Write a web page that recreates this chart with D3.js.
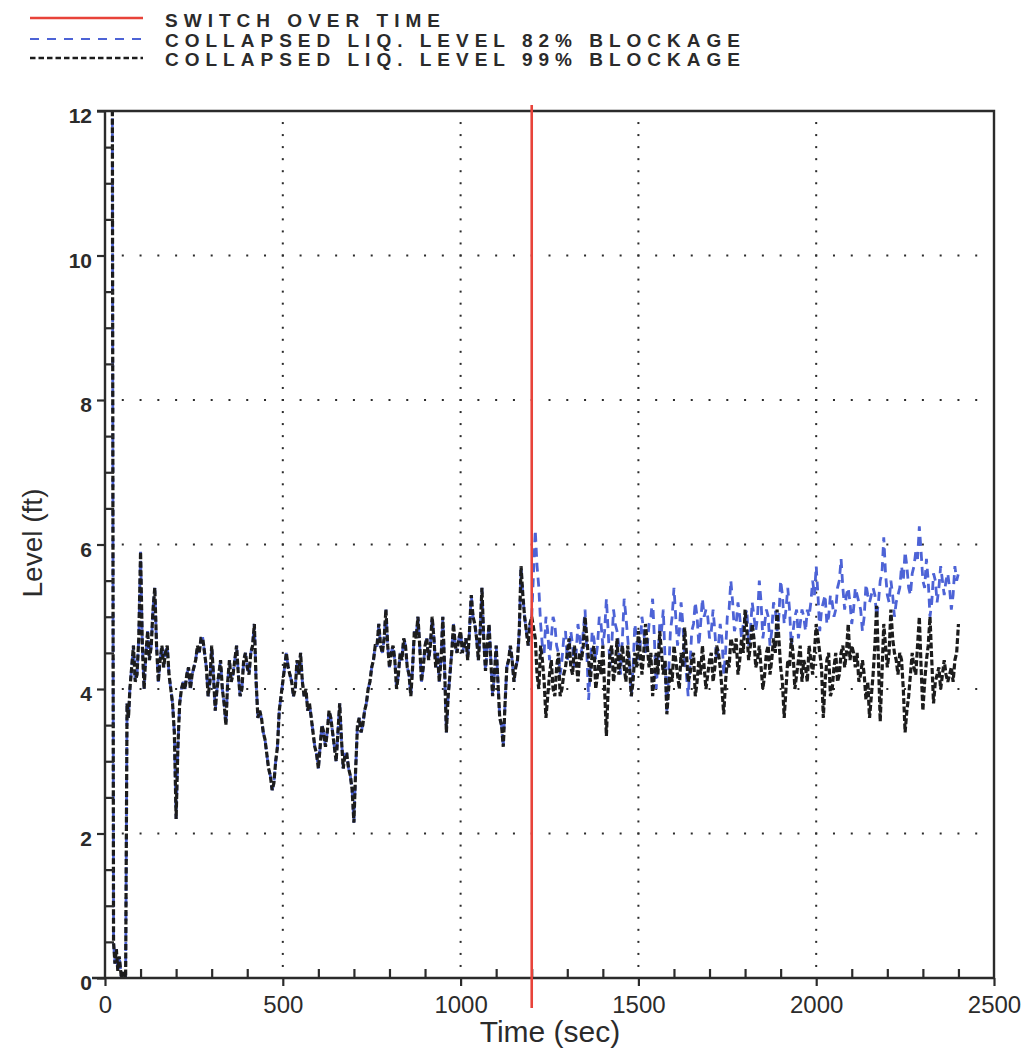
<!DOCTYPE html>
<html>
<head>
<meta charset="utf-8">
<script src="https://cdn.jsdelivr.net/npm/d3@7"></script>
<style>
  body { margin: 0; background: #fff; }
  svg { display: block; }
</style>
</head>
<body>
<svg id="chart" width="1023" height="1052"></svg>
<script>
// ---- Data -------------------------------------------------------------
// Collapsed liquid level (ft) versus time (sec).
// Start-up transient, shared by both cases.
const earlyTime  = [0, 10, 20, 24, 28, 32, 36, 40, 46, 52, 58, 62, 66];
const earlyLevel = [14.5, 14.5, 14.5, 0.5, 0.2, 0.4, 0.1, 0.3, 0.0, 0.1, 0.0, 3.8, 3.6];

// Samples on the 10 s marks from 70 s to 1200 s, plus the 5 s marks in
// between (75..1195 s); both blockage cases coincide here.
const sharedStart = 70;
const sampleStep = 10;
const sharedLevel = [
  4.0, 4.6, 4.2, 5.9, 4.0, 4.8, 4.6, 5.4, 4.1, 4.6,
  4.5, 4.2, 3.8, 2.2, 3.8, 4.1, 4.2, 4.0, 4.3, 4.6,
  4.7, 4.5, 3.9, 4.6, 3.7, 4.2, 4.0, 3.5, 4.4, 4.2,
  4.6, 3.9, 4.4, 4.3, 4.5, 4.9, 3.6, 3.6, 3.3, 2.9,
  2.6, 3.0, 3.7, 4.1, 4.5, 4.2, 3.9, 4.4, 4.5, 3.9,
  3.7, 3.6, 3.2, 2.9, 3.5, 3.2, 3.7, 3.4, 3.0, 3.8,
  2.9, 3.1, 2.8, 2.15, 3.5, 3.4, 3.7, 4.0, 4.3, 4.6,
  4.9, 4.5, 5.1, 4.3, 4.6, 4.0, 4.5, 4.7, 4.3, 3.9,
  4.8, 5.0, 4.1, 4.6, 4.4, 5.0, 4.3, 4.1, 5.0, 3.4,
  4.2, 4.9, 4.5, 4.8, 4.6, 4.4, 5.3, 4.9, 4.4, 5.4,
  4.25, 4.9, 3.9, 4.6, 3.6, 3.2, 4.3, 4.6, 4.1, 4.4,
  5.7, 5.0, 4.6, 5.0
];
const sharedLevelMid = [
  4.3, 4.1, 4.7, 4.6, 4.5, 4.4, 5.1, 4.6, 4.4, 4.3,
  4.6, 4.0, 3.4, 3.2, 4.0, 4.0, 4.3, 4.2, 4.4, 4.5,
  4.7, 4.3, 4.1, 4.2, 4.0, 4.4, 3.8, 4.1, 4.1, 4.4,
  4.2, 4.0, 4.5, 4.2, 4.6, 4.1, 3.7, 3.4, 3.1, 2.8,
  2.7, 3.2, 3.9, 4.3, 4.3, 4.1, 4.0, 4.2, 4.1, 4.0,
  3.8, 3.4, 3.1, 3.2, 3.4, 3.4, 3.6, 3.2, 3.4, 3.3,
  3.1, 2.9, 2.6, 2.9, 3.6, 3.5, 3.8, 4.1, 4.4, 4.6,
  4.6, 4.7, 4.6, 4.5, 4.4, 4.2, 4.4, 4.6, 4.2, 4.3,
  4.7, 4.6, 4.3, 4.7, 4.6, 4.7, 4.5, 4.4, 4.3, 3.9,
  4.5, 4.6, 4.7, 4.5, 4.7, 4.8, 5.0, 4.7, 4.8, 4.7,
  4.6, 4.4, 4.2, 4.1, 3.5, 3.8, 4.4, 4.4, 4.3, 4.8,
  5.3, 4.8, 4.9
];

// After switch over: samples on the 10 s marks (1210..2400 s)
// and on the 5 s marks in between (1215..2395 s).
const afterStart = 1210;
const level99After = [
  4.7, 4.0, 4.4, 3.6, 4.2, 4.0, 4.3, 3.9, 4.2, 4.5,
  4.3, 4.6, 4.1, 4.4, 5.0, 4.4, 4.5, 4.0, 4.4, 4.6,
  3.35, 4.5, 4.1, 4.7, 4.4, 4.3, 4.6, 3.9, 4.5, 4.8,
  4.2, 4.9, 4.3, 3.9, 4.5, 4.8, 4.2, 3.65, 4.3, 4.6,
  4.2, 4.5, 4.85, 4.1, 4.4, 3.9, 4.4, 4.6, 4.0, 4.4,
  4.1, 4.6, 4.3, 3.65, 4.4, 4.7, 4.5, 4.2, 4.7, 5.1,
  4.4, 4.9, 4.3, 4.6, 4.0, 4.5, 4.2, 4.7, 5.1, 4.3,
  3.6, 4.4, 4.7, 4.0, 4.4, 4.1, 4.3, 4.6, 4.2, 4.9,
  4.5, 3.6, 4.4, 3.9, 4.3, 4.1, 4.5, 4.3, 4.9, 4.6,
  4.3, 4.1, 4.4, 3.85, 3.6, 4.2, 5.15, 3.55, 4.9, 4.3,
  5.1, 4.5, 4.2, 4.4, 3.4, 3.9, 4.5, 4.2, 5.0, 3.7,
  4.4, 5.0, 3.8, 4.2, 4.0, 4.4, 4.1, 4.3, 4.4, 4.9
];
const level99AfterMid = [
  4.2, 4.6, 4.1, 3.9, 4.4, 3.9, 4.5, 4.0, 4.3, 4.7,
  4.2, 4.4, 4.5, 4.6, 4.7, 4.1, 4.6, 4.2, 4.2, 4.0,
  4.0, 4.6, 4.3, 4.2, 4.6, 4.1, 4.3, 4.1, 4.3, 4.5,
  4.5, 4.6, 4.5, 4.2, 4.2, 4.5, 4.4, 4.0, 4.1, 4.4,
  4.0, 4.3, 4.5, 4.2, 4.5, 4.1, 4.2, 4.3, 4.2, 4.5,
  4.3, 4.5, 4.0, 4.1, 4.3, 4.6, 4.7, 4.4, 4.5, 4.8,
  4.6, 4.7, 4.4, 4.3, 4.2, 4.6, 4.4, 4.5, 4.7, 4.1,
  4.0, 4.3, 4.5, 4.2, 4.6, 4.4, 4.1, 4.4, 4.5, 4.7,
  4.3, 4.1, 4.5, 4.0, 4.5, 4.2, 4.6, 4.5, 4.4, 4.5,
  4.5, 4.2, 4.2, 4.1, 3.9, 4.6, 4.4, 4.2, 4.6, 4.5,
  4.7, 4.4, 4.5, 4.0, 3.7, 4.2, 4.3, 4.6, 4.3, 4.1,
  4.6, 4.4, 4.1, 4.3, 4.2, 4.2, 4.2, 4.1, 4.5
];
const level82After = [
  6.2, 5.4, 4.6, 5.0, 4.4, 5.0, 4.6, 4.2, 4.7, 4.4,
  4.8, 4.3, 4.9, 4.5, 5.1, 3.85, 4.8, 4.4, 5.0, 4.6,
  5.25, 4.3, 5.1, 4.8, 4.2, 5.25, 4.7, 3.9, 4.9, 4.4,
  5.0, 4.5, 4.9, 5.25, 4.0, 4.9, 5.1, 3.7, 4.8, 5.4,
  4.6, 5.2, 4.4, 3.9, 4.8, 5.2, 4.6, 5.25, 5.1, 4.7,
  5.1, 4.4, 4.9, 4.2, 5.0, 5.5, 4.8, 5.2, 4.7, 5.0,
  4.6, 5.2, 4.8, 5.5, 4.7, 5.1, 4.6, 5.2, 4.8, 5.5,
  4.9, 5.4, 4.6, 5.0, 4.7, 5.1, 4.8, 5.0, 5.5, 5.7,
  4.8, 5.2, 4.9, 5.3, 5.0, 5.4, 5.8, 5.1, 5.4, 4.9,
  5.4, 5.2, 4.8, 5.45, 5.2, 5.4, 5.0, 5.5, 6.1, 5.3,
  5.5, 5.0, 5.3, 5.7, 5.9, 5.4, 5.6, 5.9, 6.25, 5.5,
  5.8, 5.0, 5.6, 5.2, 5.7, 5.3, 5.6, 5.1, 5.7, 5.6
];
const level82AfterMid = [
  5.7, 4.9, 4.5, 4.8, 4.7, 4.9, 4.5, 4.4, 4.8, 4.5,
  4.6, 4.5, 4.7, 4.8, 4.5, 4.3, 4.7, 4.6, 4.9, 4.8,
  4.8, 4.6, 4.9, 4.6, 4.7, 5.0, 4.4, 4.3, 4.7, 4.6,
  4.8, 4.6, 5.0, 4.7, 4.4, 4.8, 4.4, 4.2, 5.0, 5.0,
  4.8, 4.9, 4.2, 4.3, 4.9, 5.0, 4.9, 5.0, 5.0, 4.8,
  4.8, 4.6, 4.7, 4.5, 5.1, 5.2, 4.9, 5.0, 4.9, 5.1,
  4.8, 5.0, 5.0, 5.2, 4.9, 5.0, 4.8, 5.1, 5.0, 5.3,
  5.1, 5.1, 4.8, 5.1, 4.9, 5.0, 5.1, 5.2, 5.3, 5.3,
  5.1, 5.3, 5.0, 5.2, 5.1, 5.5, 5.4, 5.3, 5.2, 5.1,
  5.3, 5.1, 5.0, 5.3, 5.3, 5.3, 5.2, 5.6, 5.6, 5.2,
  5.3, 5.2, 5.4, 5.5, 5.7, 5.3, 5.7, 5.8, 5.9, 5.4,
  5.5, 5.2, 5.5, 5.4, 5.5, 5.5, 5.4, 5.3, 5.5
];

const switchOverTime = 1200;

const xTicks = [0, 500, 1000, 1500, 2000, 2500];
const yTicks = [0, 2, 4, 6, 8, 10, 12];

const legendLabels = [
  "SWITCH OVER TIME",
  "COLLAPSED LIQ. LEVEL 82% BLOCKAGE",
  "COLLAPSED LIQ. LEVEL 99% BLOCKAGE"
];

// ---- Build series ------------------------------------------------------
function interleaved(start, onMarks, between) {
  const out = [];
  onMarks.forEach((v, i) => {
    out.push({ t: start + i * sampleStep, v });
    if (i < between.length) out.push({ t: start + i * sampleStep + sampleStep / 2, v: between[i] });
  });
  return out;
}
const early = earlyTime.map((t, i) => ({ t, v: earlyLevel[i] }));
const shared = early.concat(interleaved(sharedStart, sharedLevel, sharedLevelMid));
const series99 = shared.concat(interleaved(afterStart, level99After, level99AfterMid));
const series82 = shared.concat(interleaved(afterStart, level82After, level82AfterMid));

// ---- Layout ------------------------------------------------------------
const svg = d3.select("#chart");
const x = d3.scaleLinear().domain([0, 2500]).range([105, 994]);
const y = d3.scaleLinear().domain([0, 12]).range([978, 111]);

const ink = "#2b2b2b";
const red = "#e8433a";
const blue = "#4d63d6";
const dark = "#1c1c1c";

// Dotted grid
const grid = svg.append("g").attr("fill", ink);
[2, 4, 6, 8, 10].forEach(v => {
  grid.selectAll(null)
    .data(d3.range(50, 2500, 50))
    .join("rect")
    .attr("x", d => x(d) - 1).attr("y", y(v) - 1)
    .attr("width", 2).attr("height", 2);
});
[500, 1000, 1500, 2000].forEach(t => {
  grid.selectAll(null)
    .data(d3.range(1, 72).map(k => k / 6))
    .join("rect")
    .attr("x", x(t) - 1).attr("y", d => y(d) - 1)
    .attr("width", 2).attr("height", 2);
});

// Clip for data
svg.append("clipPath").attr("id", "plotClip")
  .append("rect")
  .attr("x", x(0)).attr("y", y(12) - 1)
  .attr("width", x(2500) - x(0)).attr("height", y(0) - y(12) + 1);

const line = d3.line().x(d => x(d.t)).y(d => y(d.v));
const plot = svg.append("g").attr("clip-path", "url(#plotClip)");

plot.append("path")
  .datum(series82)
  .attr("d", line)
  .attr("fill", "none")
  .attr("stroke", blue)
  .attr("stroke-width", 2.8)
  .attr("stroke-dasharray", "9,6");

plot.append("path")
  .datum(series99)
  .attr("d", line)
  .attr("fill", "none")
  .attr("stroke", dark)
  .attr("stroke-width", 3.2)
  .attr("stroke-dasharray", "6,2.5");

// Axes
const axisStyle = g => {
  g.select(".domain").remove();
  g.selectAll("line").attr("stroke", ink).attr("stroke-width", 2.2);
};

svg.append("g")
  .attr("transform", `translate(0,${y(0)})`)
  .call(d3.axisBottom(x).tickValues(xTicks).tickSize(8).tickPadding(10).tickFormat(d3.format("d")))
  .call(axisStyle)
  .call(g => g.selectAll("text")
    .attr("fill", ink)
    .attr("font-family", "'Liberation Sans Narrow','Arial Narrow','Liberation Sans',Arial,sans-serif")
    .attr("font-size", 24));

svg.append("g")
  .attr("transform", `translate(0,${y(0)})`)
  .call(d3.axisTop(x).tickValues(d3.range(100, 2500, 100).filter(t => t % 500 !== 0)).tickSize(9).tickFormat(""))
  .call(axisStyle);

svg.append("g")
  .attr("transform", `translate(${x(0)},0)`)
  .call(d3.axisLeft(y).tickValues(yTicks).tickSize(8).tickPadding(5).tickFormat(d3.format("d")))
  .call(axisStyle)
  .call(g => g.selectAll("text")
    .attr("fill", ink)
    .attr("dy", "0.55em")
    .attr("font-family", "'Liberation Sans Narrow','Arial Narrow','Liberation Sans',Arial,sans-serif")
    .attr("font-weight", "bold")
    .attr("font-size", 21));

svg.append("g")
  .attr("transform", `translate(${x(0)},0)`)
  .call(d3.axisRight(y).tickValues(d3.range(0.5, 12, 0.5).filter(v => v % 2 !== 0)).tickSize(9).tickFormat(""))
  .call(axisStyle);

// Frame
svg.append("path")
  .attr("d", `M${x(0) - 8},${y(12)} H${x(2500)} V${y(0)} M${x(0)},${y(12)} V${y(0)} M${x(0) - 13},${y(0)} H${x(2500)}`)
  .attr("fill", "none")
  .attr("stroke", ink)
  .attr("stroke-width", 2.4);

// Switch-over marker
svg.append("line")
  .attr("x1", x(switchOverTime)).attr("x2", x(switchOverTime))
  .attr("y1", y(12) - 6).attr("y2", y(0) + 30)
  .attr("stroke", red)
  .attr("stroke-width", 2.6);

// Axis titles
svg.append("text")
  .attr("x", 550).attr("y", 1042)
  .attr("text-anchor", "middle")
  .attr("font-family", "'Liberation Sans',Arial,sans-serif")
  .attr("font-size", 30)
  .attr("fill", ink)
  .text("Time (sec)");

svg.append("text")
  .attr("transform", "translate(42,543) rotate(-90)")
  .attr("text-anchor", "middle")
  .attr("font-family", "'Liberation Sans',Arial,sans-serif")
  .attr("font-size", 28)
  .attr("fill", ink)
  .text("Level (ft)");

// Legend
const legend = svg.append("g");
const legendRows = [
  { y: 18, color: red, width: 2.6, dash: null, text: legendLabels[0], base: 27, len: 275 },
  { y: 39, color: blue, width: 2.2, dash: "9,8", text: legendLabels[1], base: 47, len: 575 },
  { y: 58, color: dark, width: 2.4, dash: "5.5,3", text: legendLabels[2], base: 66, len: 575 }
];
legendRows.forEach(r => {
  legend.append("line")
    .attr("x1", 30).attr("x2", 143)
    .attr("y1", r.y).attr("y2", r.y)
    .attr("stroke", r.color)
    .attr("stroke-width", r.width)
    .attr("stroke-dasharray", r.dash);
  legend.append("text")
    .attr("x", 165).attr("y", r.base)
    .attr("font-family", "'Liberation Sans Narrow','Arial Narrow','Liberation Sans',Arial,sans-serif")
    .attr("font-weight", "bold")
    .attr("font-size", 19)
    .attr("fill", ink)
    .attr("textLength", r.len)
    .attr("lengthAdjust", "spacing")
    .text(r.text);
});
</script>
</body>
</html>
